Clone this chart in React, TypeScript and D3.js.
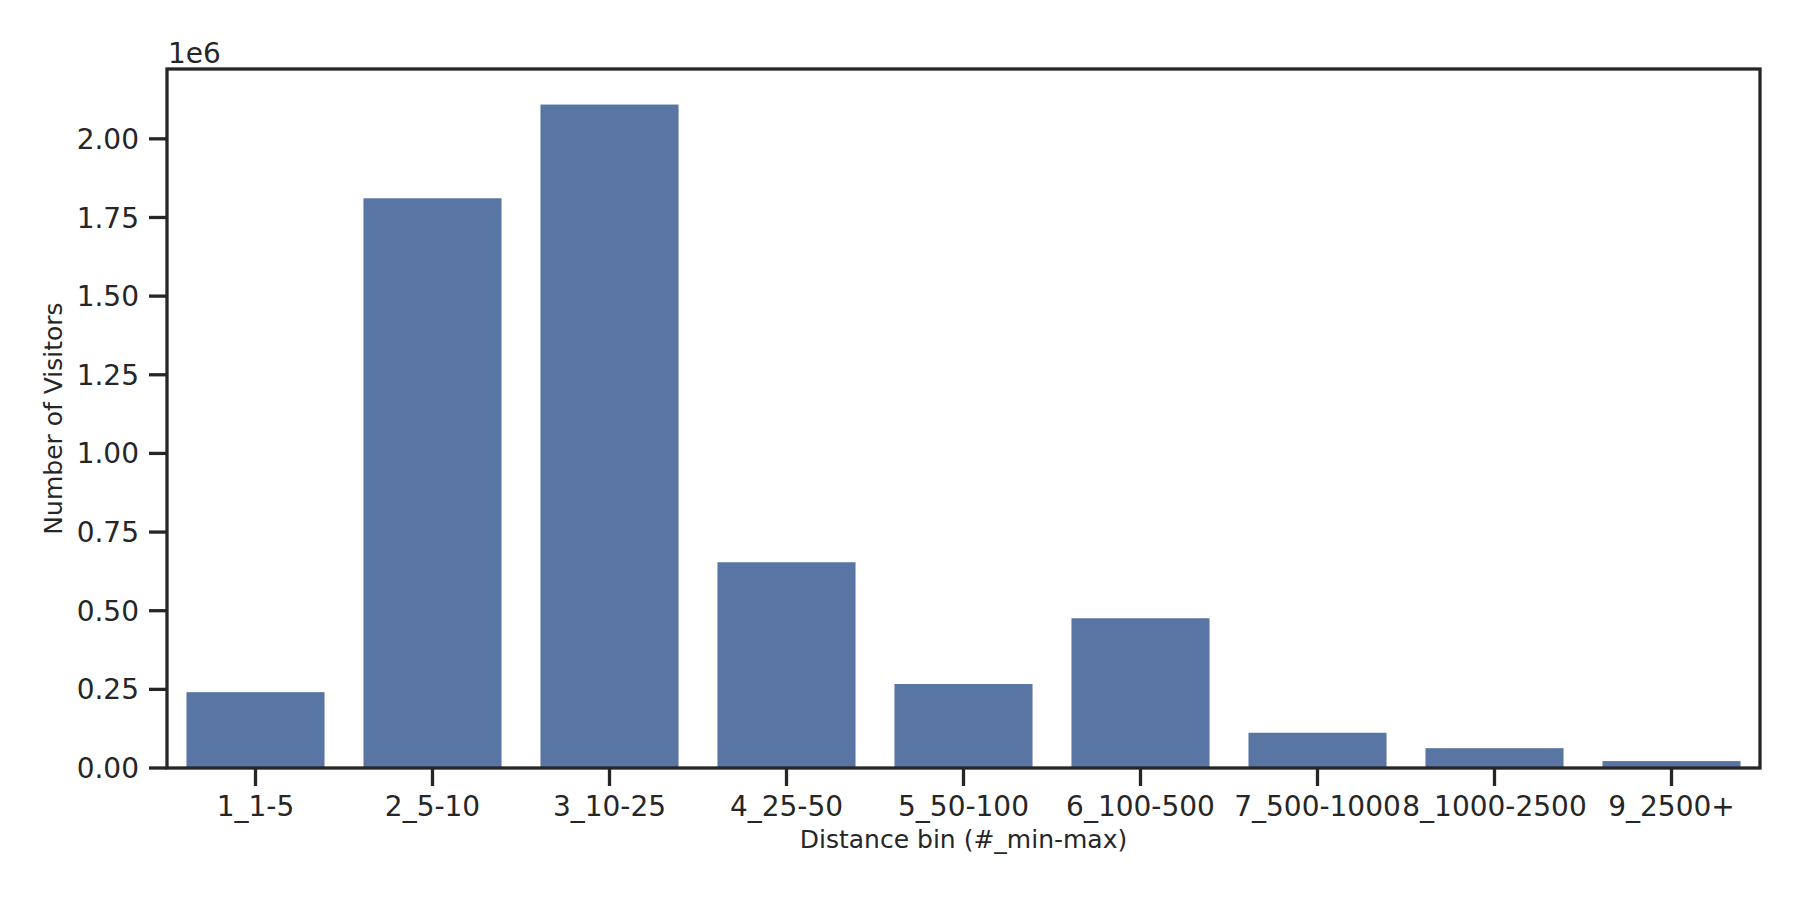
import React from "react";
import * as d3 from "d3";

const categories = ["1_1-5", "2_5-10", "3_10-25", "4_25-50", "5_50-100", "6_100-500", "7_500-1000", "8_1000-2500", "9_2500+"];
const visitors = [241000, 1811000, 2109000, 654000, 267000, 476000, 112000, 63000, 22000];
const yTicks = [0, 250000, 500000, 750000, 1000000, 1250000, 1500000, 1750000, 2000000];
const yMax = 2222000;

const W = 1800, H = 900;
const L = 167, R = 1760, T = 69, B = 768;
const ink = "#262626";
const barColor = "#5975a4";
const font = "'DejaVu Sans', sans-serif";

export default function App() {
  const x = d3.scaleBand().domain(categories).range([L, R]).paddingInner(0.22).paddingOuter(0.11);
  const y = d3.scaleLinear().domain([0, yMax]).range([B, T]);
  const tickLen = 18;
  const sw = 3.3;
  const tickFs = 28;
  return (
    <svg width={W} height={H} style={{ position: "absolute", left: 0, top: 0, background: "#fff" }} fontFamily={font}>
      <rect x={0} y={0} width={W} height={H} fill="#fff" />
      {categories.map((c, i) => (
        <rect key={c} x={x(c)} y={y(visitors[i])} width={x.bandwidth()} height={B - y(visitors[i])} fill={barColor} />
      ))}
      <rect x={L} y={T} width={R - L} height={B - T} fill="none" stroke={ink} strokeWidth={sw} />
      {yTicks.map((t) => (
        <g key={t}>
          <line x1={L - tickLen} x2={L} y1={y(t)} y2={y(t)} stroke={ink} strokeWidth={sw} />
          <text x={L - tickLen - 10} y={y(t)} dy="0.36em" textAnchor="end" fontSize={tickFs} fill={ink}>
            {(t / 1e6).toFixed(2)}
          </text>
        </g>
      ))}
      {categories.map((c) => {
        const cx = (x(c) as number) + x.bandwidth() / 2;
        return (
          <g key={c}>
            <line x1={cx} x2={cx} y1={B} y2={B + tickLen} stroke={ink} strokeWidth={sw} />
            <text x={cx} y={816} textAnchor="middle" fontSize={tickFs} fill={ink}>
              {c}
            </text>
          </g>
        );
      })}
      <text x={L + 1} y={63} fontSize={tickFs} fill={ink}>1e6</text>
      <text x={(L + R) / 2} y={848} textAnchor="middle" fontSize={25} fill={ink}>Distance bin (#_min-max)</text>
      <text transform={`translate(62,${(T + B) / 2}) rotate(-90)`} textAnchor="middle" fontSize={25} fill={ink}>Number of Visitors</text>
    </svg>
  );
}
